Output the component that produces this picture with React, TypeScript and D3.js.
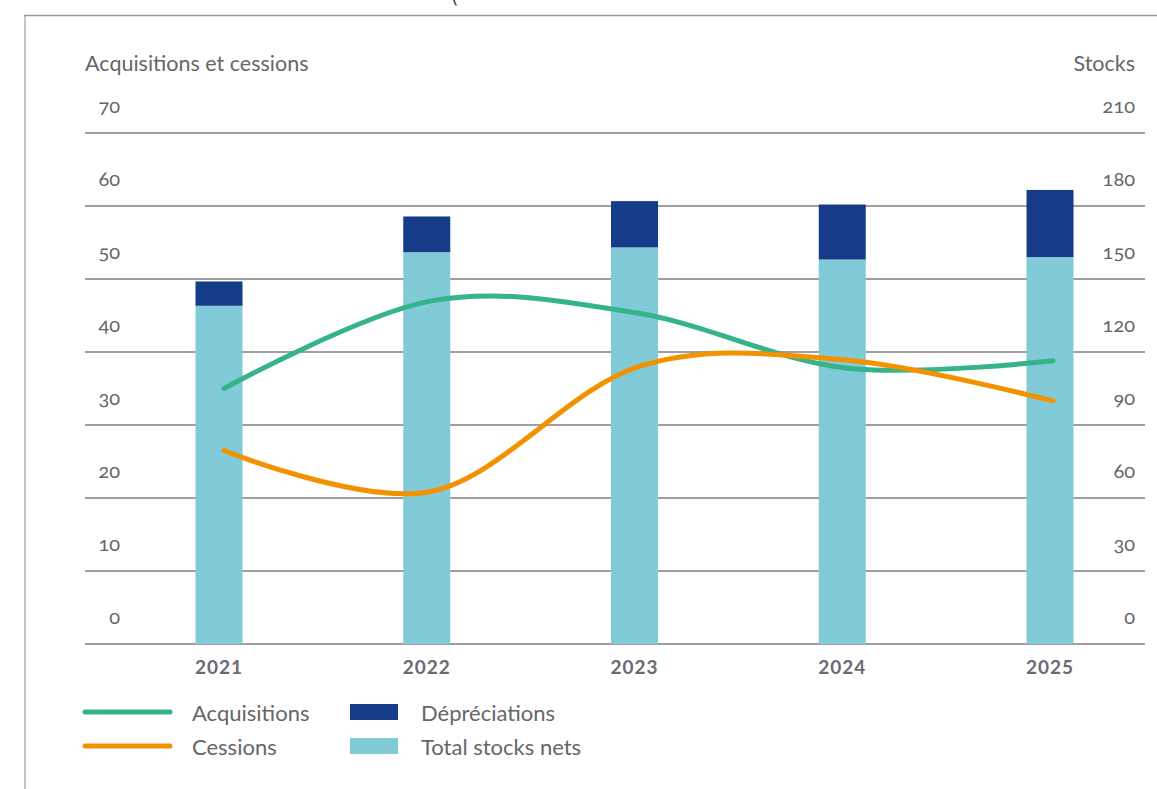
import React from "react";
import * as d3 from "d3";

const years = ["2021", "2022", "2023", "2024", "2025"];
const acquisitions = [35.0, 47.0, 45.3, 37.8, 38.8];
const cessions = [26.5, 20.9, 38.0, 38.9, 33.3];
const stocksNets = [139, 161, 163, 158, 159];
const depreciations = [10, 14.7, 19, 22.6, 27.6];
const leftTicks = [0, 10, 20, 30, 40, 50, 60, 70];
const rightTicks = [0, 30, 60, 90, 120, 150, 180, 210];

const W = 1157;
const H = 789;
const GREEN = "#35b389";
const ORANGE = "#f39200";
const DARK = "#163c89";
const LIGHT = "#80cbd7";
const GRID = "#7f7f7f";
const TEXT = "#666";
const FONT = "Lato, 'Open Sans', sans-serif";

export default function App() {
  const top = 133;
  const bottom = 644;
  const yL = d3.scaleLinear().domain([0, 70]).range([bottom, top]);
  const yR = d3.scaleLinear().domain([0, 210]).range([bottom, top]);
  const xBar = d3.scalePoint<string>().domain(years).range([219, 1050]);
  const xLine = d3.scalePoint<string>().domain(years).range([224, 1053]);
  const barW = 47;
  const gridX0 = 85;
  const gridX1 = 1145;

  const line = d3
    .line<number>()
    .x((_, i) => xLine(years[i]) as number)
    .y((d) => yL(d))
    .curve(d3.curveCatmullRom.alpha(0));

  return (
    <svg
      width={W}
      height={H}
      style={{ position: "absolute", left: 0, top: 0, display: "block", background: "#fff" }}
      fontFamily={FONT}
    >
      {/* frame */}
      <line x1={25} y1={15} x2={25} y2={H} stroke="#c4c4c4" strokeWidth={2} />
      <line x1={24} y1={15.5} x2={W} y2={15.5} stroke="#9a9a9a" strokeWidth={1.5} />
      <text x={452} y={3} fontSize={20} fill="#444">(</text>

      {/* axis titles */}
      <text x={85} y={71} fontSize={21.5} fill={TEXT}>Acquisitions et cessions</text>
      <text x={1135} y={71} fontSize={21.5} fill={TEXT} textAnchor="end">Stocks</text>

      {/* grid */}
      {leftTicks.map((t) => (
        <line key={t} x1={gridX0} x2={gridX1} y1={yL(t)} y2={yL(t)} stroke={GRID} strokeWidth={1.3} />
      ))}
      {leftTicks.map((t) => (
        <text key={"l" + t} x={120} y={yL(t) - 20} fontSize={20} fill={TEXT} textAnchor="end"
          style={{ fontVariantNumeric: "oldstyle-nums" }}>{t}</text>
      ))}
      {rightTicks.map((t) => (
        <text key={"r" + t} x={1135} y={yR(t) - 20} fontSize={20} fill={TEXT} textAnchor="end"
          style={{ fontVariantNumeric: "oldstyle-nums" }}>{t}</text>
      ))}

      {/* bars */}
      {years.map((yr, i) => {
        const cx = xBar(yr) as number;
        const base = stocksNets[i];
        const tot = base + depreciations[i];
        return (
          <g key={yr}>
            <rect x={cx - barW / 2} width={barW} y={yR(base)} height={yR(0) - yR(base)} fill={LIGHT} />
            <rect x={cx - barW / 2} width={barW} y={yR(tot)} height={yR(base) - yR(tot)} fill={DARK} />
          </g>
        );
      })}

      {/* lines */}
      <path d={line(acquisitions) || ""} fill="none" stroke={GREEN} strokeWidth={5} strokeLinecap="round" />
      <path d={line(cessions) || ""} fill="none" stroke={ORANGE} strokeWidth={5} strokeLinecap="round" />

      {/* year labels */}
      {years.map((yr) => (
        <text key={"y" + yr} x={xBar(yr) as number} y={674} fontSize={19} fontWeight="bold" fill="#6a6a72"
          textAnchor="middle" letterSpacing={1}>{yr}</text>
      ))}

      {/* legend */}
      <line x1={85} x2={170} y1={712} y2={712} stroke={GREEN} strokeWidth={5} strokeLinecap="round" />
      <text x={192} y={721} fontSize={22} fill={TEXT}>Acquisitions</text>
      <line x1={85} x2={170} y1={746} y2={746} stroke={ORANGE} strokeWidth={5} strokeLinecap="round" />
      <text x={192} y={755} fontSize={22} fill={TEXT}>Cessions</text>
      <rect x={350} y={704} width={48} height={16} fill={DARK} />
      <text x={421} y={721} fontSize={22} fill={TEXT}>Dépréciations</text>
      <rect x={350} y={738} width={48} height={16} fill={LIGHT} />
      <text x={421} y={755} fontSize={22} fill={TEXT}>Total stocks nets</text>
    </svg>
  );
}
